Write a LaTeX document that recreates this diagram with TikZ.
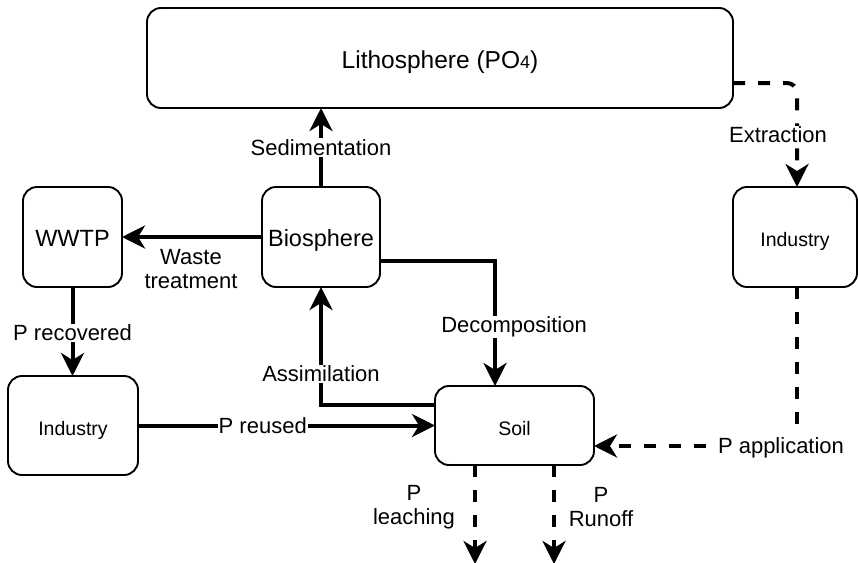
\documentclass[tikz,border=0pt]{standalone}
\usepackage{fontspec}
\setmainfont{Liberation Sans}
\usetikzlibrary{arrows.meta}
\begin{document}
\begin{tikzpicture}[x=1pt,y=-1pt,
  box/.style={draw, line width=1.9pt, rounded corners=14pt, outer sep=0pt, inner sep=0pt, fill=white, text depth=0pt},
  tip/.style={-{Stealth[length=23pt,width=23pt,inset=7pt]}},
  conn/.style={line width=4pt, tip},
  dashconn/.style={line width=4pt, dash pattern=on 12pt off 13pt, tip},
  lbl/.style={font=\fontsize{22}{25}\selectfont, inner sep=1pt, align=center, yshift=-2pt},
  wlbl/.style={lbl, fill=white},
  bigtxt/.style={font=\fontsize{23.5}{27}\selectfont, text height=19pt},
  smalltxt/.style={font=\fontsize{19.5}{23}\selectfont, text height=19.5pt}
]
\useasboundingbox (0,0) rectangle (858,562);
\fill[white] (0,0) rectangle (858,562);

% boxes
\node[box, font=\fontsize{24.5}{28}\selectfont, text height=20.5pt, minimum width=586pt, minimum height=100pt] (litho) at (440,58)
  {Lithosphere (PO{\fontsize{18}{20}\selectfont 4})};
\node[box, bigtxt, minimum width=118pt, minimum height=100pt] (bio) at (321,237) {Biosphere};
\node[box, bigtxt, minimum width=99pt, minimum height=100pt] (wwtp) at (72.5,237) {WWTP};
\node[box, smalltxt, minimum width=124pt, minimum height=100pt] (indr) at (795,237) {Industry};
\node[box, smalltxt, minimum width=130pt, minimum height=99pt] (indl) at (73,425.5) {Industry};
\node[box, smalltxt, minimum width=159pt, minimum height=79pt] (soil) at (514.5,425.5) {Soil};

% helper coordinates
\coordinate (extr1) at (733,83);
\coordinate (extr2) at (797,83);
\coordinate (decA) at (495,261);
\coordinate (assA) at (321,405);
\coordinate (appA) at (797,446);
\coordinate (leachEnd) at (475,564);
\coordinate (runEnd) at (554,564);

% Sedimentation
\draw[conn] (bio.north) -- (bio.north |- litho.south)
  node[wlbl, pos=0.5, yshift=2pt] {Sedimentation};

% Waste treatment
\draw[conn] (bio.west) -- (wwtp.east);
\node[lbl] (wt) at (191,267) {Waste\\[-1pt]treatment};

% P recovered
\draw[conn] (wwtp.south) -- (wwtp.south |- indl.north)
  node[wlbl, pos=0.49] {P recovered};

% P reused
\draw[conn] (indl.east) -- (indl.east -| soil.west)
  node[wlbl, pos=0.42, yshift=2pt] {P reused};

% Assimilation
\draw[conn] (soil.west |- assA) -| (bio.south);
\node[wlbl] (assl) at (321,372) {Assimilation};

% Decomposition
\draw[conn] (bio.east |- decA) -| (soil.north -| decA);
\node[wlbl] (decl) at (514,325) {Decomposition};

% Extraction
\draw[dashconn, rounded corners=10pt]
  (extr1) -- (extr2) -- (extr2 |- indr.north);
\node[wlbl] (extl) at (778,133) {Extraction};

% P application
\draw[dashconn] (indr.south -| appA) -- (appA) -- (appA -| soil.east);
\node[wlbl] (appl) at (781,446) {P application};

% Leaching / Runoff
\draw[dashconn] (soil.south -| leachEnd) -- (leachEnd);
\draw[dashconn] (soil.south -| runEnd) -- (runEnd);
\node[lbl] (leachl) at (414,505) {P\\[-1pt]leaching};
\node[lbl] (runl) at (601,505) {P\\[-1pt]Runoff};
\end{tikzpicture}
\end{document}
